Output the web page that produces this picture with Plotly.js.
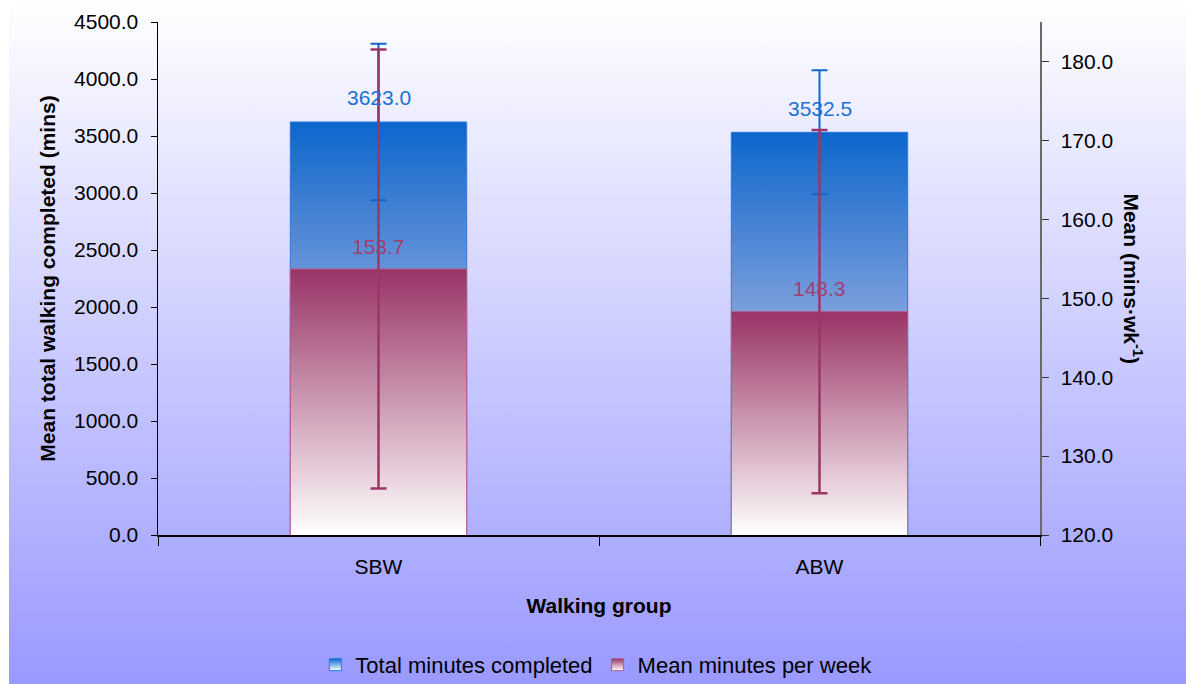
<!DOCTYPE html>
<html>
<head>
<meta charset="utf-8">
<script src="https://cdn.plot.ly/plotly-3.0.1.min.js"></script>
<style>
  html, body { margin: 0; padding: 0; background: #ffffff; }
  #bg { position: absolute; left: 9px; top: 0; width: 1177px; height: 684px;
        background: linear-gradient(to bottom, #ffffff 0%, #9999ff 100%); }
  #chart { position: absolute; left: 0; top: 0; width: 1186px; height: 684px; }
</style>
</head>
<body>
<div id="bg"></div>
<div id="chart"></div>
<script>
// ---- data ----
const categories = ['SBW', 'ABW'];
const totalMinutes = [3623.0, 3532.5];      // left axis
const totalMinutesErr = [687, 544];
const meanPerWeek = [153.7, 148.3];         // right axis
const meanPerWeekErr = [27.8, 23.0];
const seriesNames = ['Total minutes completed', 'Mean minutes per week'];

const FONT = 'Liberation Sans, Arial, Helvetica, sans-serif';
const FS = 21;

const traces = [
  {
    type: 'bar', name: seriesNames[0], x: categories, y: totalMinutes, yaxis: 'y',
    marker: { color: '#5a86d8', line: { color: '#2a7ae0', width: 1 } },
    error_y: { type: 'data', array: totalMinutesErr, visible: true, color: '#1166cc', thickness: 2, width: 8 },
    hoverinfo: 'skip'
  },
  {
    type: 'bar', name: seriesNames[1], x: categories, y: meanPerWeek, yaxis: 'y2',
    marker: { color: '#c08aa0', line: { color: '#b55a86', width: 1 } },
    error_y: { type: 'data', array: meanPerWeekErr, visible: true, color: '#9b3767', thickness: 2.5, width: 8 },
    hoverinfo: 'skip'
  }
];

const annotations = [];
categories.forEach((c, i) => {
  annotations.push({ x: c, y: totalMinutes[i], xref: 'x', yref: 'y', text: totalMinutes[i].toFixed(1),
    showarrow: false, yshift: 24, font: { family: FONT, size: FS, color: '#1a72d6' } });
  annotations.push({ x: c, y: meanPerWeek[i], xref: 'x', yref: 'y2', text: meanPerWeek[i].toFixed(1),
    showarrow: false, yshift: 23, font: { family: FONT, size: FS, color: '#a13f70' } });
});
annotations.push({
  xref: 'paper', yref: 'paper', x: 1.1055, y: 0.5, xanchor: 'center', yanchor: 'middle',
  text: 'Mean (mins·wk<sup>-1</sup>)',
  textangle: 90, showarrow: false, font: { family: FONT, size: FS, color: '#000000', weight: 'bold' }
});

const layout = {
  width: 1186, height: 684,
  margin: { l: 158, r: 146, t: 22, b: 149 },
  paper_bgcolor: 'rgba(0,0,0,0)', plot_bgcolor: 'rgba(0,0,0,0)',
  font: { family: FONT, size: FS, color: '#000000' },
  barmode: 'overlay', bargap: 0.6,
  showlegend: true,
  legend: { orientation: 'h', x: 0.497, xanchor: 'center', xref: 'paper',
            y: 0.028, yanchor: 'middle', yref: 'container',
            font: { family: FONT, size: 22, color: '#000' }, bgcolor: 'rgba(0,0,0,0)', traceorder: 'normal' },
  xaxis: {
    type: 'category', showline: true, linecolor: '#000', linewidth: 1.5,
    ticks: 'outside', tickson: 'boundaries', ticklen: 9, tickcolor: '#000',
    ticklabelstandoff: 12, showgrid: false, zeroline: false, automargin: false,
    tickfont: { family: FONT, size: FS, color: '#000' },
    title: { text: 'Walking group', standoff: 21, font: { family: FONT, size: FS, color: '#000', weight: 'bold' } }
  },
  yaxis: {
    range: [0, 4500], dtick: 500, tickformat: '.1f', showline: true, linecolor: '#000', linewidth: 1.5,
    ticks: 'outside', ticklen: 6, tickcolor: '#000', ticklabelstandoff: 8, automargin: false,
    showgrid: false, zeroline: false,
    tickfont: { family: FONT, size: FS, color: '#000' },
    title: { text: 'Mean total walking completed (mins)', standoff: 12,
             font: { family: FONT, size: FS, color: '#000', weight: 'bold' } }
  },
  yaxis2: {
    overlaying: 'y', side: 'right', range: [120, 185], dtick: 10, tick0: 120, tickformat: '.1f',
    showline: true, linecolor: '#6a6a6a', linewidth: 1.5, automargin: false,
    ticks: 'outside', ticklen: 7, tickcolor: '#333', ticklabelstandoff: 8,
    showgrid: false, zeroline: false,
    tickfont: { family: FONT, size: FS, color: '#000' }
  },
  annotations: annotations
};

const gd = document.getElementById('chart');

const barStops = {
  0: [[0, '#0d66cc'], [0.6, '#a2b2e2'], [1, '#ffffff']],
  1: [[0, '#993366'], [1, '#ffffff']]
};
const legStops = {
  0: [[0, '#0d66cc'], [1, '#ffffff']],
  1: [[0, '#993366'], [1, '#ffffff']]
};

function makeGrad(defs, id, stops, userSpace, y1, y2) {
  const NS = 'http://www.w3.org/2000/svg';
  const g = document.createElementNS(NS, 'linearGradient');
  g.setAttribute('id', id);
  g.setAttribute('class', 'custom-grad');
  g.setAttribute('x1', 0); g.setAttribute('x2', 0);
  if (userSpace) {
    g.setAttribute('gradientUnits', 'userSpaceOnUse');
    g.setAttribute('y1', y1); g.setAttribute('y2', y2);
  } else {
    g.setAttribute('y1', 0); g.setAttribute('y2', 1);
  }
  stops.forEach(s => {
    const st = document.createElementNS(NS, 'stop');
    st.setAttribute('offset', s[0]);
    st.setAttribute('stop-color', s[1]);
    g.appendChild(st);
  });
  defs.appendChild(g);
}

function applyGradients() {
  const svg = gd.querySelector('svg.main-svg');
  if (!svg) return;
  let defs = svg.querySelector('defs');
  if (!defs) { defs = document.createElementNS('http://www.w3.org/2000/svg', 'defs'); svg.insertBefore(defs, svg.firstChild); }
  defs.querySelectorAll('.custom-grad').forEach(n => n.remove());
  const plotH = gd._fullLayout._size.h;
  gd.querySelectorAll('.barlayer .trace').forEach(tr => {
    const d = tr.__data__;
    if (!d || !d[0] || !d[0].trace) return;
    const ti = d[0].trace.index;
    tr.querySelectorAll('.point path').forEach((p, j) => {
      const bb = p.getBBox();
      const id = 'grad-bar-' + ti + '-' + j;
      makeGrad(defs, id, barStops[ti], true, bb.y, plotH);
      p.style.fill = 'url(#' + id + ')';
      p.style.fillOpacity = 1;
    });
  });
  gd.querySelectorAll('.legend .traces').forEach(tr => {
    const d = tr.__data__;
    if (!d || !d[0] || !d[0].trace) return;
    const ti = d[0].trace.index;
    const id = 'grad-leg-' + ti;
    makeGrad(defs, id, legStops[ti], false);
    tr.querySelectorAll('.legendpoints path').forEach(p => {
      p.style.fill = 'url(#' + id + ')';
      p.style.fillOpacity = 1;
    });
  });
}

Plotly.newPlot(gd, traces, layout, { displayModeBar: false, staticPlot: true }).then(() => {
  applyGradients();
  gd.on && gd.on('plotly_afterplot', applyGradients);
});
</script>
</body>
</html>
